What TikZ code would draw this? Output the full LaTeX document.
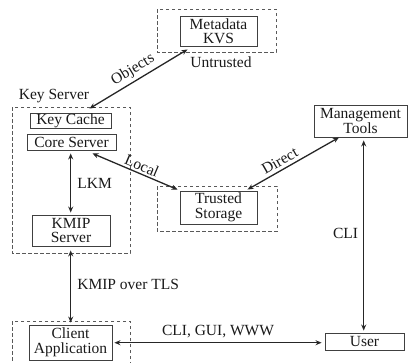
\documentclass[tikz,border=0pt]{standalone}
\usepackage{fontspec}
\setmainfont{Liberation Serif}
\usetikzlibrary{arrows.meta,calc}
\begin{document}
\begin{tikzpicture}[x=1pt,y=-1pt,
  every node/.style={font=\fontsize{15.5}{14.5}\selectfont, text=black!90},
  box/.style={draw=black!75, line width=0.9pt, inner sep=0pt, align=center},
  dbox/.style={draw=black!65, dashed, line width=0.9pt, dash pattern=on 3.5pt off 2.5pt},
  arr/.style={{Stealth[length=6pt,width=5pt]}-{Stealth[length=6pt,width=5pt]}, line width=1.3pt, black!85},
  lbl/.style={inner sep=1pt}]
\useasboundingbox (0,0) rectangle (414,362);
\clip (0,0) rectangle (414,362);
% dashed groups
\draw[dbox] (157,9) rectangle (276,52);
\draw[dbox] (12,107) rectangle (130,253);
\draw[dbox] (157,186) rectangle (277,231);
\draw[dbox] (12,321) rectangle (130,380);
% boxes
\node[box, minimum width=81pt, minimum height=15pt] (kc) at (70.5,120.5) {Key Cache};
\node[box, minimum width=89pt, minimum height=16pt] (cs) at (71.5,142) {Core Server};
\node[box, minimum width=78pt, minimum height=31pt] (kmip) at (71,230.5) {KMIP\\Server};
\node[box, minimum width=83pt, minimum height=35pt] (ca) at (70.5,342.5) {Client\\Application};
\node[box, minimum width=77pt, minimum height=30pt] (kvs) at (218.5,31) {Metadata\\KVS};
\node[box, minimum width=77pt, minimum height=33pt] (ts) at (218.5,207.5) {Trusted\\Storage};
\node[box, minimum width=93pt, minimum height=32pt] (mt) at (360.5,121) {Management\\Tools};
\node[box, minimum width=79pt, minimum height=17pt] (us) at (364.5,341.5) {User};
% plain labels
\node[lbl] (untr) at (221,62) {Untrusted};
\node[lbl] (ksl) at (54,96) {Key Server};
% connectors
\coordinate (uw) at ([xshift=-3pt,yshift=-1.2pt]us.west);
\draw[arr] ([xshift=19pt,yshift=4pt]kc.north) -- ([xshift=-31pt,yshift=-3pt]kvs.south)
  node[lbl, midway, sloped, above, yshift=2pt] {Objects};
\draw[arr] ([xshift=21pt,yshift=-3pt]cs.south) -- ([xshift=-2pt,yshift=1pt]ts.north west)
  node[lbl, midway, sloped, above, xshift=4pt, yshift=1pt] {Local};
\draw[arr] ([xshift=29pt,yshift=1pt]ts.north) -- ([xshift=-21.5pt]mt.south)
  node[lbl, pos=0.4, sloped, above, yshift=2pt] {Direct};
\draw[arr] ([xshift=-0.8pt,yshift=-3pt]cs.south) -- ([xshift=-0.3pt,yshift=2pt]kmip.north)
  node[lbl, midway, right, xshift=5pt] {LKM};
\draw[arr] ([xshift=-0.3pt,yshift=-4pt]kmip.south) -- ([xshift=0.2pt,yshift=2pt]ca.north)
  node[lbl, pos=0.47, right, xshift=5pt] {KMIP over TLS};
\draw[arr] ([xshift=3.2pt,yshift=-3pt]mt.south) -- ([xshift=-0.8pt,yshift=2pt]us.north)
  node[lbl, pos=0.49, left, xshift=-4pt] {CLI};
\draw[arr] (uw) -- ([xshift=2pt,yshift=-0.2pt]ca.east)
  node[lbl, midway, above, yshift=3pt] {CLI, GUI, WWW};
\end{tikzpicture}
\end{document}
